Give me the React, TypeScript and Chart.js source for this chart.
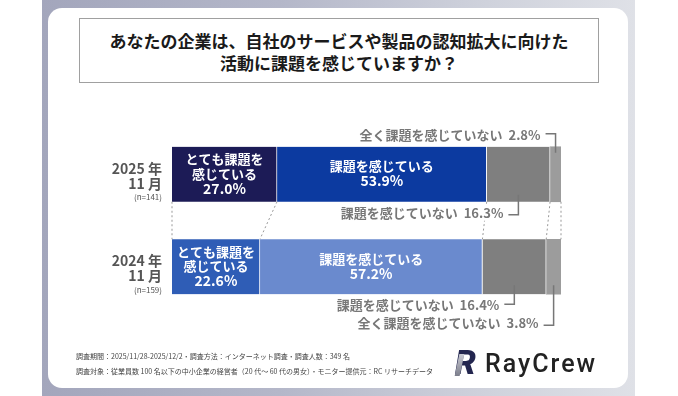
import React, { useEffect, useRef } from 'react';
import { Chart, registerables } from 'chart.js';

Chart.register(...registerables);

// ---- data ----
const categories = ['2025年11月', '2024年11月'];
const yearLabels = ['2025 年', '2024 年'];
const monthLabels = ['11 月', '11 月'];
const sampleLabels = ['(n=141)', '(n=159)'];
const seriesNames = ['とても課題を感じている', '課題を感じている', '課題を感じていない', '全く課題を感じていない'];
const inBarLines = [['とても課題を', '感じている'], ['課題を感じている']];
const veryConcerned = [27.0, 22.6];
const concerned = [53.9, 57.2];
const notConcerned = [16.3, 16.4];
const notAtAll = [2.8, 3.8];
const titleLines = ['あなたの企業は、自社のサービスや製品の認知拡大に向けた', '活動に課題を感じていますか？'];
const footerLines = [
  '調査期間：2025/11/28-2025/12/2・調査方法：インターネット調査・調査人数：349 名',
  '調査対象：従業員数 100 名以下の中小企業の経営者（20 代～ 60 代の男女）・モニター提供元：RC リサーチデータ',
];

const FONT = '"Noto Sans CJK JP", "Noto Sans", sans-serif';

// annotation placement for outside labels, key `${dataset}-${category}`
const annotLayout: Record<string, { side: 'above' | 'below'; textDy: number; lineDy: number; inset: number }> = {
  '3-0': { side: 'above', textDy: -12, lineDy: -13, inset: 6 },
  '2-0': { side: 'below', textDy: 11, lineDy: 13, inset: 7 },
  '2-1': { side: 'below', textDy: 11, lineDy: 10, inset: 9 },
  '3-1': { side: 'below', textDy: 29, lineDy: 31, inset: 9 },
};

const overlayPlugin = {
  id: 'overlay',
  afterDatasetsDraw(chart: any) {
    const ctx = chart.ctx;
    const yScale = chart.scales.y;
    ctx.save();

    // left category labels
    ctx.textAlign = 'right';
    ctx.textBaseline = 'middle';
    ctx.fillStyle = '#555555';
    categories.forEach((_, i) => {
      const y = yScale.getPixelForValue(i);
      ctx.font = `bold 14px ${FONT}`;
      ctx.fillText(yearLabels[i], 162, y - 6);
      ctx.fillText(monthLabels[i], 162, y + 9);
      ctx.font = `8px ${FONT}`;
      ctx.fillText(sampleLabels[i], 162, y + 23);
    });

    // dotted connectors between bars
    const metas = chart.data.datasets.map((_: any, d: number) => chart.getDatasetMeta(d));
    const e0 = metas[0].data[0];
    const e1 = metas[0].data[1];
    const bottom0 = e0.y + e0.height / 2;
    const top1 = e1.y - e1.height / 2;
    const bounds = (c: number) => {
      const arr = [metas[0].data[c].base];
      metas.forEach((m: any) => arr.push(m.data[c].x));
      return arr;
    };
    const b0 = bounds(0);
    const b1 = bounds(1);
    ctx.strokeStyle = '#999999';
    ctx.lineWidth = 1;
    ctx.setLineDash([2, 2.5]);
    for (let k = 0; k < b0.length; k++) {
      ctx.beginPath();
      ctx.moveTo(b0[k], bottom0);
      ctx.lineTo(b1[k], top1);
      ctx.stroke();
    }
    ctx.setLineDash([]);

    // in-bar labels
    ctx.textAlign = 'center';
    ctx.fillStyle = '#ffffff';
    [0, 1].forEach((d) => {
      metas[d].data.forEach((el: any, c: number) => {
        const v = chart.data.datasets[d].data[c];
        const lines = [...inBarLines[d], v.toFixed(1) + '%'];
        const cx = (el.x + el.base) / 2;
        const lh = 14.5;
        lines.forEach((t, k) => {
          ctx.font = k === lines.length - 1 ? `bold 14px ${FONT}` : `bold 13px ${FONT}`;
          ctx.fillText(t, cx, el.y - 0.5 + (k - (lines.length - 1) / 2) * lh);
        });
      });
    });

    // outside labels with brackets
    ctx.font = `bold 13px ${FONT}`;
    ctx.lineWidth = 1.5;
    ctx.textAlign = 'right';
    [2, 3].forEach((d) => {
      metas[d].data.forEach((el: any, c: number) => {
        const cfg = annotLayout[`${d}-${c}`];
        if (!cfg) return;
        const v = chart.data.datasets[d].data[c];
        const bx = (el.x + el.base) / 2;
        const top = el.y - el.height / 2;
        const bot = el.y + el.height / 2;
        const edge = cfg.side === 'above' ? top : bot;
        const inner = cfg.side === 'above' ? top + cfg.inset : bot - cfg.inset;
        const ly = edge + cfg.lineDy;
        const text = `${seriesNames[d]}  ${v.toFixed(1)}%`;
        const tx = bx - 15;
        const ty = edge + cfg.textDy;
        const w = ctx.measureText(text).width;
        ctx.fillStyle = '#ffffff';
        ctx.fillRect(tx - w - 2, ty - 8, w + 4, 16);
        ctx.fillStyle = '#777777';
        ctx.fillText(text, tx, ty);
        ctx.strokeStyle = '#777777';
        ctx.beginPath();
        ctx.moveTo(bx - 10, ly);
        ctx.lineTo(bx, ly);
        ctx.lineTo(bx, inner);
        ctx.stroke();
      });
    });

    ctx.restore();
  },
};

export default function App() {
  const ref = useRef<HTMLCanvasElement | null>(null);

  useEffect(() => {
    if (!ref.current) return;
    const sep = 'rgba(255,255,255,0.85)';
    const bw = { top: 0, bottom: 0, left: 0, right: 1 };
    const chart = new Chart(ref.current, {
      type: 'bar',
      data: {
        labels: categories,
        datasets: [
          { label: seriesNames[0], data: veryConcerned, backgroundColor: ['#1c1b56', '#2f5db6'], borderColor: sep, borderWidth: bw, borderSkipped: false, barThickness: 55 },
          { label: seriesNames[1], data: concerned, backgroundColor: ['#0c3aa0', '#6a8ace'], borderColor: sep, borderWidth: bw, borderSkipped: false, barThickness: 55 },
          { label: seriesNames[2], data: notConcerned, backgroundColor: '#7f7f7f', borderColor: sep, borderWidth: bw, borderSkipped: false, barThickness: 55 },
          { label: seriesNames[3], data: notAtAll, backgroundColor: '#9c9c9c', borderWidth: 0, barThickness: 55 },
        ],
      } as any,
      options: {
        indexAxis: 'y',
        animation: false,
        responsive: false,
        maintainAspectRatio: false,
        layout: { padding: { left: 172, right: 117, top: 128, bottom: 83 } },
        scales: {
          x: { stacked: true, min: 0, max: 100, display: false },
          y: { stacked: true, display: false },
        },
        plugins: { legend: { display: false }, tooltip: { enabled: false } },
      } as any,
      plugins: [overlayPlugin],
    });
    return () => chart.destroy();
  }, []);

  return (
    <div style={{ position: 'fixed', left: 0, top: 0, width: 678, height: 396, background: '#ffffff', overflow: 'hidden', fontFamily: FONT }}>
      <div style={{ position: 'absolute', left: 42, top: 0, width: 593, height: 396, background: 'linear-gradient(90deg, #a3a6bc 0%, #b4b7c9 40%, #cfd2dc 75%, #dfe1e7 100%)' }} />
      <div style={{ position: 'absolute', left: 48, top: 8, width: 580, height: 380, background: '#ffffff', borderRadius: 14 }} />
      <div style={{ position: 'absolute', left: 79, top: 18, width: 520, height: 65, boxSizing: 'border-box', border: '1px solid #a0a0a0', background: '#fff', display: 'flex', flexDirection: 'column', justifyContent: 'center', alignItems: 'center', paddingTop: 2 }}>
        {titleLines.map((t, i) => (
          <div key={i} style={{ fontSize: 17, fontWeight: 700, lineHeight: '21.5px', color: '#1a1a1a', whiteSpace: 'nowrap' }}>{t}</div>
        ))}
      </div>
      <canvas ref={ref} width={678} height={396} style={{ position: 'absolute', left: 0, top: 0, width: 678, height: 396 }} />
      <div style={{ position: 'absolute', left: 76, top: 349, fontSize: 7, lineHeight: '15px', color: '#444', whiteSpace: 'nowrap' }}>
        {footerLines.map((t, i) => (<div key={i}>{t}</div>))}
      </div>
      <div style={{ position: 'absolute', left: 454, top: 349, height: 30, display: 'flex', alignItems: 'center' }}>
        <div style={{ position: 'relative', width: 28, height: 28, marginRight: 3 }}>
          <span style={{ position: 'absolute', left: 1, top: -6, fontSize: 33, fontWeight: 900, color: '#23264f', fontFamily: 'Roboto, sans-serif', fontStyle: 'italic', lineHeight: '38px' }}>R</span>
          <div style={{ position: 'absolute', left: 3, top: 4, width: 5, height: 22, background: 'linear-gradient(180deg,#c9cad3,#7d7f8c)', transform: 'skewX(-12deg)' }} />
        </div>
        <span style={{ fontSize: 25, fontWeight: 500, color: '#222', fontFamily: 'Roboto, sans-serif', letterSpacing: 2, lineHeight: '30px' }}>RayCrew</span>
      </div>
    </div>
  );
}
